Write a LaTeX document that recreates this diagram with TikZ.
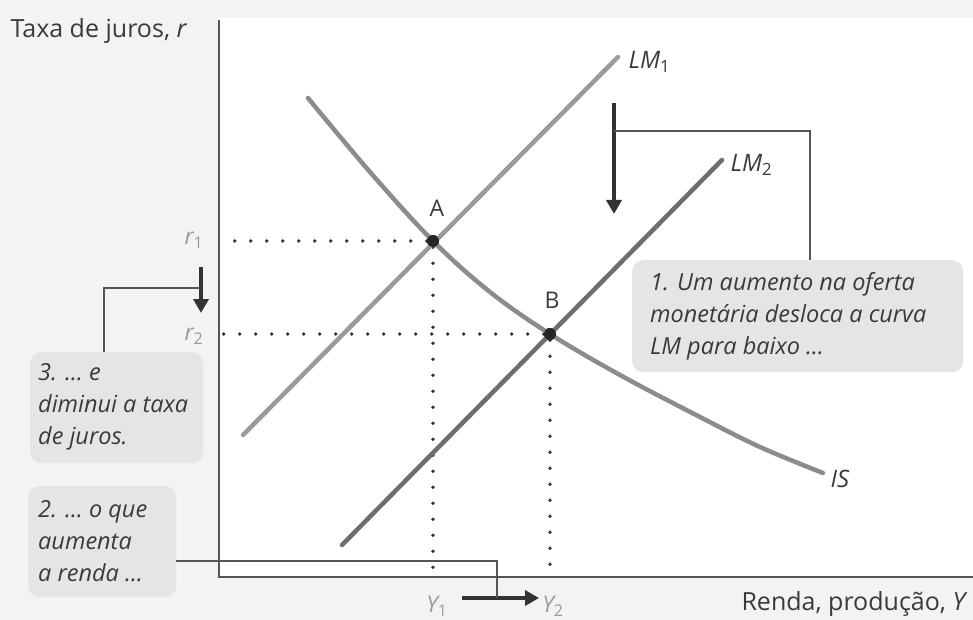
\documentclass[tikz,border=0pt]{standalone}
\usepackage{fontspec}
\setmainfont{Open Sans}
\usetikzlibrary{arrows.meta}
\definecolor{bgray}{HTML}{F2F3F3}
\definecolor{boxgray}{HTML}{E4E5E5}
\definecolor{txt}{HTML}{3A3A3A}
\definecolor{lmone}{HTML}{9A9A9A}
\definecolor{lmtwo}{HTML}{6E6E6E}
\definecolor{iscol}{HTML}{8C8C8C}
\definecolor{axcol}{HTML}{555555}
\definecolor{arr}{HTML}{333333}
\tikzset{
  curve/.style={line width=4.5pt, line cap=round},
  axisline/.style={draw=axcol, line width=1.6pt},
  dotline/.style={draw=arr, line width=3.8pt, line cap=round, dash pattern=on 0pt off 16pt},
  callout/.style={fill=boxgray, rounded corners=11pt, text=txt, align=left, anchor=north west,
     inner sep=0pt, font=\fontsize{23.5}{32}\selectfont\itshape},
  leader/.style={draw=axcol, line width=1.3pt},
  bigarrow/.style={draw=arr, line width=4.5pt, -{Triangle[length=14pt,width=15pt]}},
  lbl/.style={text=txt, font=\fontsize{25}{28}\selectfont},
  clbl/.style={text=txt, font=\fontsize{24}{28}\selectfont\itshape},
  tlbl/.style={text=lmone, font=\fontsize{23}{26}\selectfont\itshape},
  pt/.style={circle, fill=black!85, minimum size=12pt, inner sep=0pt}
}
\begin{document}
\begin{tikzpicture}[x=1pt,y=-1pt]
\fill[bgray] (0,0) rectangle (973,620);
\useasboundingbox (0,0) rectangle (973,620);
\fill[white] (219,18) rectangle (973,577);
% axes
\draw[axisline] (219,20) -- (219,577) -- (973,577);
\node[lbl, anchor=west] (ylab) at (7,31) {Taxa de juros, \textit{r}};
\node[lbl, anchor=east] (xlab) at (971,604) {Renda, produção, \textit{Y}};
% points
\node[pt] (A) at (433,241) {};
\node[pt] (B) at (550,334) {};
\node[lbl, font=\fontsize{23}{26}\selectfont] (Alab) at (437,208) {A};
\node[lbl, font=\fontsize{23}{26}\selectfont] (Blab) at (552,300) {B};
% axis tick labels
\node[tlbl] (r1) at (194,240) {r\textsubscript{\upshape 1}};
\node[tlbl] (r2) at (194,336) {r\textsubscript{\upshape 2}};
\node[tlbl] (Y1) at (437,606) {Y\textsubscript{\upshape 1}};
\node[tlbl] (Y2) at (553,606) {Y\textsubscript{\upshape 2}};
\coordinate (axA) at (219,241);
\coordinate (axB) at (219,334);
\coordinate (baseA) at (433,577);
\coordinate (baseB) at (550,577);
% dotted guide lines
\draw[dotline] (A) -- (axA);
\draw[dotline] (A) -- (baseA);
\draw[dotline] (B) -- (axB);
\draw[dotline] (B) -- (baseB);
% curves
\coordinate (lm1s) at (243,435);
\coordinate (lm1e) at (618,57);
\coordinate (lm2s) at (342,545);
\coordinate (lm2e) at (722,160);
\draw[curve, draw=lmone] (lm1s) -- (lm1e);
\draw[curve, draw=lmtwo] (lm2s) -- (lm2e);
\draw[curve, draw=iscol] plot[smooth, tension=0.6] coordinates {(308,98) (370,172) (433,241) (490,292) (550,334) (620,375) (700,417) (760,447) (823,473)};
\node[pt] at (A) {};
\node[pt] at (B) {};
\node[clbl, anchor=west] (LM1) at (625,62) {LM\textsubscript{\upshape 1}};
\node[clbl, anchor=west] (LM2) at (727,165) {LM\textsubscript{\upshape 2}};
\node[clbl, anchor=west] (IS) at (827,479) {IS};
% callouts
\node[callout, minimum width=331pt, minimum height=112pt] (c1) at (632,260) {};
\node[callout, anchor=west, fill=none] (c1t) at (650,316) {1. Um aumento na oferta\\monetária desloca a curva\\LM para baixo \ldots};
\node[callout, minimum width=173pt, minimum height=111pt] (c3) at (30,352) {};
\node[callout, anchor=west, fill=none] (c3t) at (38,407) {3. \ldots\ e\\diminui a taxa\\de juros.};
\node[callout, minimum width=148pt, minimum height=111pt] (c2) at (28,486) {};
\node[callout, anchor=west, fill=none] (c2t) at (38,541) {2. \ldots\ o que\\aumenta\\a renda \ldots};
% arrows and leaders
\coordinate (a1s) at (614,103);
\coordinate (a1e) at (614,214);
\draw[bigarrow] (a1s) -- (a1e);
\coordinate (l1a) at (614,131);
\draw[leader] (l1a) -- (810,131) -- (c1.north west -| 810,0);
\coordinate (a3s) at (201,267);
\coordinate (a3e) at (201,313);
\draw[bigarrow] (a3s) -- (a3e);
\coordinate (l3a) at (201,288);
\draw[leader] (l3a) -- (104,288) -- (c3.north west -| 104,0);
\coordinate (a2s) at (462,598);
\coordinate (a2e) at (539,598);
\draw[bigarrow] (a2s) -- (a2e);
\coordinate (l2b) at (497,598);
\draw[leader] (c2.east |- 0,561) -- (497,561) -- (l2b);
\end{tikzpicture}
\end{document}
